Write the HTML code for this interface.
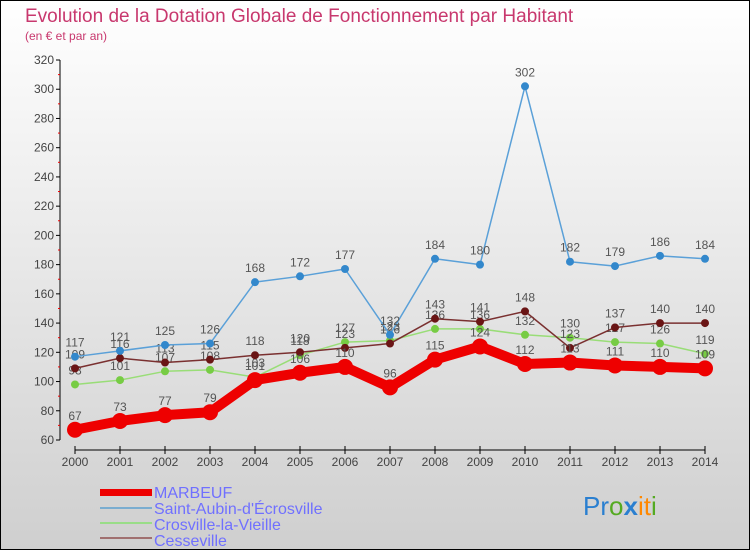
<!DOCTYPE html>
<html><head><meta charset="utf-8"><style>
body{margin:0;}
svg text{font-family:"Liberation Sans",sans-serif;}
</style></head><body>
<svg width="750" height="550" viewBox="0 0 750 550" xmlns="http://www.w3.org/2000/svg">
<defs><linearGradient id="bg" x1="0" y1="0" x2="0" y2="1"><stop offset="0" stop-color="#ffffff"/><stop offset="1" stop-color="#cfcfcf"/></linearGradient></defs>
<rect x="0.5" y="0.5" width="749" height="549" fill="url(#bg)" stroke="#000"/>
<text x="25" y="22" font-size="19" fill="#c8386e">Evolution de la Dotation Globale de Fonctionnement par Habitant</text>
<text x="25" y="40" font-size="12" fill="#c8386e">(en € et par an)</text>
<g id="axes"></g>
<g id="series"></g>
<g id="legend">
<rect x="100" y="489" width="52" height="7" fill="#ee0000"/>
<text x="154" y="498" font-size="16" fill="#7070ff">MARBEUF</text>
<rect x="100" y="507" width="52" height="2" fill="#7aadd0"/>
<text x="154" y="514" font-size="16" fill="#7070ff">Saint-Aubin-d'Écrosville</text>
<rect x="100" y="522" width="52" height="2" fill="#99dd88"/>
<text x="154" y="530" font-size="16" fill="#7070ff">Crosville-la-Vieille</text>
<rect x="100" y="537" width="52" height="2" fill="#a07070"/>
<text x="154" y="546" font-size="16" fill="#7070ff">Cesseville</text>
</g>
<text x="583" y="515" font-size="26" font-family="Liberation Sans"><tspan fill="#2a7fd0">Pr</tspan><tspan fill="#55aa22">o</tspan><tspan fill="#2a7fd0" font-weight="bold">x</tspan><tspan fill="#ff8800">it</tspan><tspan fill="#55aa22">i</tspan></text>
</svg>
<script>
const years=[2000,2001,2002,2003,2004,2005,2006,2007,2008,2009,2010,2011,2012,2013,2014];
const marbeuf=[67,73,77,79,101,106,110,96,115,124,112,113,111,110,109];
const saintAubin=[117,121,125,126,168,172,177,132,184,180,302,182,179,186,184];
const crosville=[98,101,107,108,103,118,127,128,136,136,132,130,127,126,119];
const cesseville=[109,116,113,115,118,120,123,126,143,141,148,123,137,140,140];
const yTicks=[60,80,100,120,140,160,180,200,220,240,260,280,300,320];
const NS='http://www.w3.org/2000/svg';
const xS=i=>75+i*45;
const yS=v=>440-(v-60)*(380/260);
function el(t,a,p){const e=document.createElementNS(NS,t);for(const k in a)e.setAttribute(k,a[k]);p.appendChild(e);return e;}
const ax=document.getElementById('axes');
const yl=el('line',{x1:60,y1:60,x2:60,y2:440,stroke:'#000'},ax);


const xl=el('line',{x1:75,y1:450,x2:705,y2:450,stroke:'#000'},ax);


yTicks.forEach((v,i)=>{
  el('line',{x1:56,x2:60,y1:yS(v),y2:yS(v),stroke:'#000'},ax);
  if(i<yTicks.length-1)el('line',{x1:58,x2:60,y1:yS(v+10),y2:yS(v+10),stroke:'#e00'},ax);
  const t=el('text',{x:54,y:yS(v)+4,'font-size':12,fill:'#444','text-anchor':'end'},ax);
  t.textContent=v;
  
  
});
years.forEach((y,i)=>{
  el('line',{x1:xS(i),x2:xS(i),y1:446,y2:454,stroke:'#000'},ax);
  const t=el('text',{x:xS(i),y:466,'font-size':12,fill:'#444','text-anchor':'middle'},ax);
  t.textContent=y;
  
  
});
const sg=document.getElementById('series');
function draw(data,name,color,mcolor,w,r){
  const g=el('g',{},sg);
  
  
  const pl=el('polyline',{points:data.map((v,i)=>xS(i)+','+yS(v)).join(' '),fill:'none',stroke:color,'stroke-width':w,'stroke-linejoin':'round'},g);
  
  
  data.forEach((v,i)=>{
    const c=el('circle',{cx:xS(i),cy:yS(v),r:r,fill:mcolor},g);
    
    
    const t=el('text',{x:xS(i),y:yS(v)-10,'font-size':12,fill:'#555','text-anchor':'middle'},g);
    t.textContent=v;
    
    
  });
}
draw(crosville,'crosville','#99dd77','#77cc44',1.5,4);
draw(cesseville,'cesseville','#7a3030','#6a1515',1.5,4);
draw(saintAubin,'saint-aubin','#5aa0d8','#3388cc',1.5,4);
draw(marbeuf,'marbeuf','#ee0000','#ee0000',10,8);
</script>
</body></html>
